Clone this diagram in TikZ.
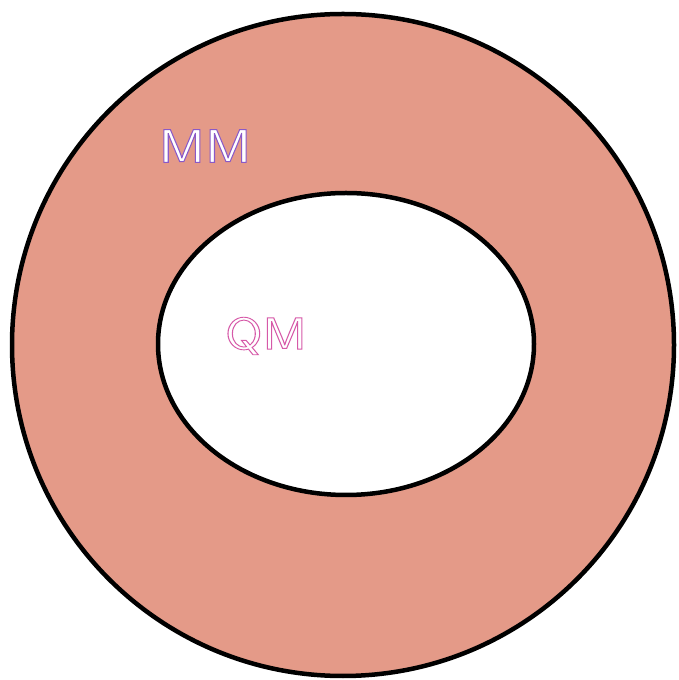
\documentclass[tikz,border=0pt]{standalone}
\usepackage{tikz}
\usepackage{graphicx}
\usepackage{xcolor}
\definecolor{ringfill}{HTML}{E49A88}
% outlined letters: fill white, stroke in given rgb
\newcommand{\outlinetext}[2]{\scalebox{1.2}[1]{\special{pdf:code q 2 Tr 0.9 w #1 RG}#2\special{pdf:code Q}}}

\begin{document}
\begin{tikzpicture}[x=1pt, y=1pt]
            \useasboundingbox (0,0) rectangle (679,680);

            % outer ring
            \coordinate (O) at (343,335);
            \fill[ringfill] (O) circle (331);
            \draw[line width=4.5] (O) circle (331);

            % inner region
            \coordinate (I) at (346,336);
            \fill[white] (I) ellipse (188 and 151);
            \draw[line width=4.5] (I) ellipse (188 and 151);

            % labels
            \node[white] (MM) at (205,534) {\fontsize{47}{47}\sffamily\outlinetext{0.54 0.35 0.78}{MM}};
            \node[white] (QM) at (266,344) {\fontsize{45}{45}\sffamily\outlinetext{0.84 0.35 0.66}{QM}};
        \end{tikzpicture}
\end{document}
